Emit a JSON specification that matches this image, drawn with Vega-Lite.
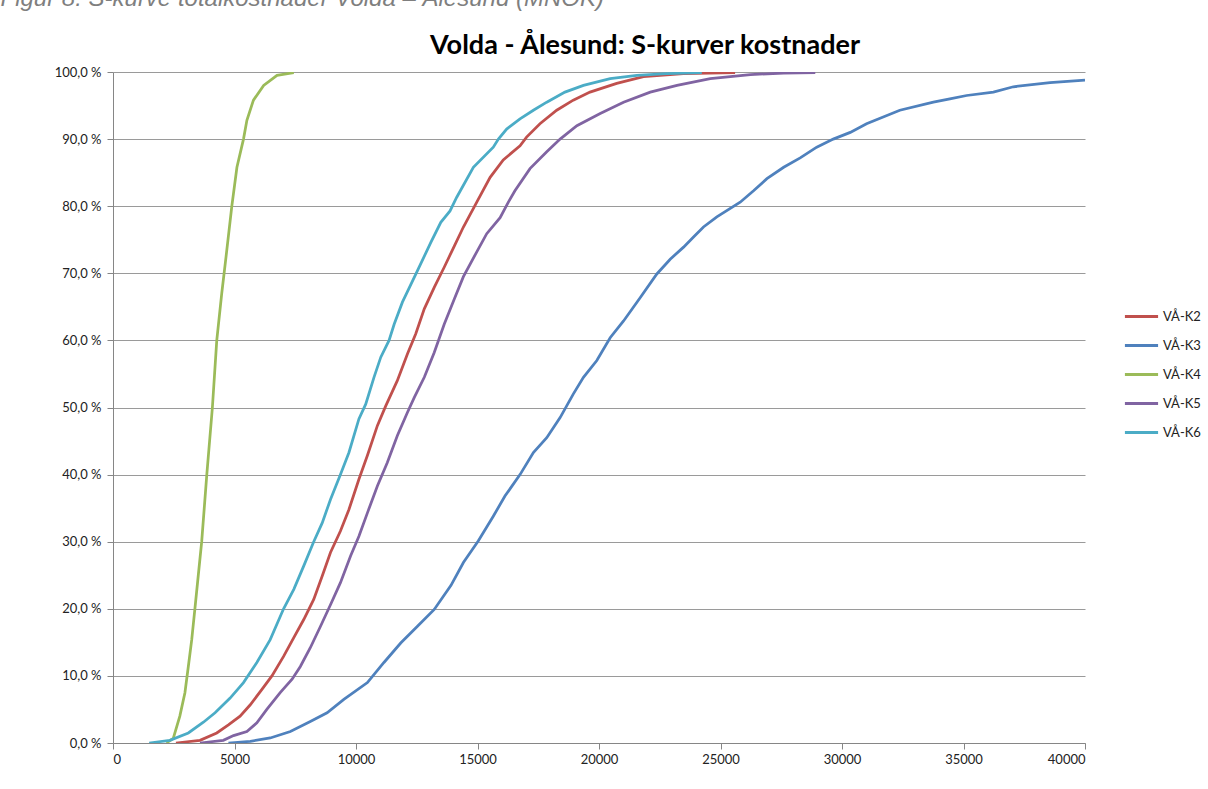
{
  "$schema": "https://vega.github.io/schema/vega-lite/v6.json",
  "autosize": "none",
  "width": 972,
  "height": 671,
  "padding": {"left": 113, "top": 72, "right": 123, "bottom": 46},
  "background": "white",
  "title": {
    "text": "Volda - Ålesund: S-kurver kostnader",
    "font": "Lato",
    "fontSize": 27,
    "fontWeight": "bold",
    "color": "#000000",
    "anchor": "middle",
    "baseline": "bottom",
    "dx": 46,
    "offset": -101
  },
  "data": {
    "values": [
      {"s": "VÅ-K2", "x": 2590, "p": 0},
      {"s": "VÅ-K2", "x": 3580, "p": 0.004},
      {"s": "VÅ-K2", "x": 4270, "p": 0.015},
      {"s": "VÅ-K2", "x": 4750, "p": 0.027},
      {"s": "VÅ-K2", "x": 5230, "p": 0.04},
      {"s": "VÅ-K2", "x": 5650, "p": 0.057},
      {"s": "VÅ-K2", "x": 6130, "p": 0.08},
      {"s": "VÅ-K2", "x": 6540, "p": 0.1},
      {"s": "VÅ-K2", "x": 7020, "p": 0.129},
      {"s": "VÅ-K2", "x": 7440, "p": 0.157},
      {"s": "VÅ-K2", "x": 7850, "p": 0.184},
      {"s": "VÅ-K2", "x": 8260, "p": 0.214},
      {"s": "VÅ-K2", "x": 8610, "p": 0.249},
      {"s": "VÅ-K2", "x": 8950, "p": 0.284},
      {"s": "VÅ-K2", "x": 9360, "p": 0.316},
      {"s": "VÅ-K2", "x": 9710, "p": 0.348},
      {"s": "VÅ-K2", "x": 10120, "p": 0.393},
      {"s": "VÅ-K2", "x": 10465, "p": 0.428},
      {"s": "VÅ-K2", "x": 10880, "p": 0.473},
      {"s": "VÅ-K2", "x": 11220, "p": 0.502},
      {"s": "VÅ-K2", "x": 11700, "p": 0.54},
      {"s": "VÅ-K2", "x": 12120, "p": 0.58},
      {"s": "VÅ-K2", "x": 12460, "p": 0.61},
      {"s": "VÅ-K2", "x": 12810, "p": 0.647},
      {"s": "VÅ-K2", "x": 13220, "p": 0.679},
      {"s": "VÅ-K2", "x": 13630, "p": 0.709},
      {"s": "VÅ-K2", "x": 14050, "p": 0.741},
      {"s": "VÅ-K2", "x": 14420, "p": 0.769},
      {"s": "VÅ-K2", "x": 14970, "p": 0.806},
      {"s": "VÅ-K2", "x": 15520, "p": 0.843},
      {"s": "VÅ-K2", "x": 16060, "p": 0.869},
      {"s": "VÅ-K2", "x": 16750, "p": 0.89},
      {"s": "VÅ-K2", "x": 17020, "p": 0.903},
      {"s": "VÅ-K2", "x": 17570, "p": 0.923},
      {"s": "VÅ-K2", "x": 18260, "p": 0.943},
      {"s": "VÅ-K2", "x": 18940, "p": 0.958},
      {"s": "VÅ-K2", "x": 19630, "p": 0.97},
      {"s": "VÅ-K2", "x": 20730, "p": 0.983},
      {"s": "VÅ-K2", "x": 21830, "p": 0.993},
      {"s": "VÅ-K2", "x": 23470, "p": 0.9975},
      {"s": "VÅ-K2", "x": 25600, "p": 0.999},

      {"s": "VÅ-K3", "x": 4750, "p": 0},
      {"s": "VÅ-K3", "x": 5650, "p": 0.0025},
      {"s": "VÅ-K3", "x": 6470, "p": 0.0075},
      {"s": "VÅ-K3", "x": 7300, "p": 0.017},
      {"s": "VÅ-K3", "x": 8120, "p": 0.032},
      {"s": "VÅ-K3", "x": 8810, "p": 0.045},
      {"s": "VÅ-K3", "x": 9500, "p": 0.065},
      {"s": "VÅ-K3", "x": 10470, "p": 0.09},
      {"s": "VÅ-K3", "x": 11150, "p": 0.12},
      {"s": "VÅ-K3", "x": 11840, "p": 0.149},
      {"s": "VÅ-K3", "x": 12530, "p": 0.174},
      {"s": "VÅ-K3", "x": 13220, "p": 0.199},
      {"s": "VÅ-K3", "x": 13910, "p": 0.235},
      {"s": "VÅ-K3", "x": 14420, "p": 0.269},
      {"s": "VÅ-K3", "x": 15030, "p": 0.301},
      {"s": "VÅ-K3", "x": 15650, "p": 0.338},
      {"s": "VÅ-K3", "x": 16130, "p": 0.368},
      {"s": "VÅ-K3", "x": 16750, "p": 0.4},
      {"s": "VÅ-K3", "x": 17300, "p": 0.433},
      {"s": "VÅ-K3", "x": 17850, "p": 0.455},
      {"s": "VÅ-K3", "x": 18400, "p": 0.485},
      {"s": "VÅ-K3", "x": 18940, "p": 0.52},
      {"s": "VÅ-K3", "x": 19360, "p": 0.545},
      {"s": "VÅ-K3", "x": 19910, "p": 0.57},
      {"s": "VÅ-K3", "x": 20460, "p": 0.604},
      {"s": "VÅ-K3", "x": 21010, "p": 0.629},
      {"s": "VÅ-K3", "x": 21700, "p": 0.664},
      {"s": "VÅ-K3", "x": 22380, "p": 0.699},
      {"s": "VÅ-K3", "x": 22930, "p": 0.721},
      {"s": "VÅ-K3", "x": 23480, "p": 0.739},
      {"s": "VÅ-K3", "x": 23890, "p": 0.754},
      {"s": "VÅ-K3", "x": 24300, "p": 0.769},
      {"s": "VÅ-K3", "x": 24850, "p": 0.784},
      {"s": "VÅ-K3", "x": 25810, "p": 0.806},
      {"s": "VÅ-K3", "x": 26360, "p": 0.823},
      {"s": "VÅ-K3", "x": 26910, "p": 0.841},
      {"s": "VÅ-K3", "x": 27600, "p": 0.858},
      {"s": "VÅ-K3", "x": 28280, "p": 0.872},
      {"s": "VÅ-K3", "x": 28960, "p": 0.888},
      {"s": "VÅ-K3", "x": 29640, "p": 0.9},
      {"s": "VÅ-K3", "x": 30340, "p": 0.91},
      {"s": "VÅ-K3", "x": 31010, "p": 0.923},
      {"s": "VÅ-K3", "x": 32380, "p": 0.943},
      {"s": "VÅ-K3", "x": 33760, "p": 0.955},
      {"s": "VÅ-K3", "x": 34440, "p": 0.96},
      {"s": "VÅ-K3", "x": 35130, "p": 0.965},
      {"s": "VÅ-K3", "x": 36230, "p": 0.97},
      {"s": "VÅ-K3", "x": 37050, "p": 0.978},
      {"s": "VÅ-K3", "x": 38560, "p": 0.984},
      {"s": "VÅ-K3", "x": 40000, "p": 0.988},

      {"s": "VÅ-K4", "x": 2200, "p": 0},
      {"s": "VÅ-K4", "x": 2480, "p": 0.007},
      {"s": "VÅ-K4", "x": 2750, "p": 0.04},
      {"s": "VÅ-K4", "x": 2960, "p": 0.075},
      {"s": "VÅ-K4", "x": 3100, "p": 0.114},
      {"s": "VÅ-K4", "x": 3240, "p": 0.154},
      {"s": "VÅ-K4", "x": 3370, "p": 0.2},
      {"s": "VÅ-K4", "x": 3510, "p": 0.25},
      {"s": "VÅ-K4", "x": 3650, "p": 0.3},
      {"s": "VÅ-K4", "x": 3860, "p": 0.4},
      {"s": "VÅ-K4", "x": 4090, "p": 0.5},
      {"s": "VÅ-K4", "x": 4270, "p": 0.6},
      {"s": "VÅ-K4", "x": 4475, "p": 0.67},
      {"s": "VÅ-K4", "x": 4650, "p": 0.724},
      {"s": "VÅ-K4", "x": 4890, "p": 0.8},
      {"s": "VÅ-K4", "x": 5100, "p": 0.858},
      {"s": "VÅ-K4", "x": 5370, "p": 0.9},
      {"s": "VÅ-K4", "x": 5510, "p": 0.928},
      {"s": "VÅ-K4", "x": 5780, "p": 0.958},
      {"s": "VÅ-K4", "x": 6200, "p": 0.98},
      {"s": "VÅ-K4", "x": 6750, "p": 0.995},
      {"s": "VÅ-K4", "x": 7440, "p": 0.999},

      {"s": "VÅ-K5", "x": 3580, "p": 0},
      {"s": "VÅ-K5", "x": 4540, "p": 0.004},
      {"s": "VÅ-K5", "x": 4960, "p": 0.011},
      {"s": "VÅ-K5", "x": 5510, "p": 0.017},
      {"s": "VÅ-K5", "x": 5920, "p": 0.03},
      {"s": "VÅ-K5", "x": 6330, "p": 0.05},
      {"s": "VÅ-K5", "x": 6880, "p": 0.075},
      {"s": "VÅ-K5", "x": 7370, "p": 0.095},
      {"s": "VÅ-K5", "x": 7710, "p": 0.114},
      {"s": "VÅ-K5", "x": 8120, "p": 0.142},
      {"s": "VÅ-K5", "x": 8540, "p": 0.174},
      {"s": "VÅ-K5", "x": 8950, "p": 0.206},
      {"s": "VÅ-K5", "x": 9360, "p": 0.239},
      {"s": "VÅ-K5", "x": 9780, "p": 0.279},
      {"s": "VÅ-K5", "x": 10120, "p": 0.308},
      {"s": "VÅ-K5", "x": 10470, "p": 0.343},
      {"s": "VÅ-K5", "x": 10880, "p": 0.383},
      {"s": "VÅ-K5", "x": 11290, "p": 0.418},
      {"s": "VÅ-K5", "x": 11700, "p": 0.458},
      {"s": "VÅ-K5", "x": 12120, "p": 0.493},
      {"s": "VÅ-K5", "x": 12400, "p": 0.515},
      {"s": "VÅ-K5", "x": 12810, "p": 0.545},
      {"s": "VÅ-K5", "x": 13220, "p": 0.582},
      {"s": "VÅ-K5", "x": 13630, "p": 0.624},
      {"s": "VÅ-K5", "x": 14050, "p": 0.662},
      {"s": "VÅ-K5", "x": 14420, "p": 0.695},
      {"s": "VÅ-K5", "x": 14970, "p": 0.732},
      {"s": "VÅ-K5", "x": 15380, "p": 0.759},
      {"s": "VÅ-K5", "x": 15930, "p": 0.783},
      {"s": "VÅ-K5", "x": 16270, "p": 0.806},
      {"s": "VÅ-K5", "x": 16540, "p": 0.823},
      {"s": "VÅ-K5", "x": 17160, "p": 0.856},
      {"s": "VÅ-K5", "x": 17850, "p": 0.881},
      {"s": "VÅ-K5", "x": 18400, "p": 0.9},
      {"s": "VÅ-K5", "x": 19090, "p": 0.92},
      {"s": "VÅ-K5", "x": 20050, "p": 0.938},
      {"s": "VÅ-K5", "x": 21010, "p": 0.955},
      {"s": "VÅ-K5", "x": 22110, "p": 0.97},
      {"s": "VÅ-K5", "x": 23210, "p": 0.98},
      {"s": "VÅ-K5", "x": 24580, "p": 0.99},
      {"s": "VÅ-K5", "x": 26230, "p": 0.996},
      {"s": "VÅ-K5", "x": 27600, "p": 0.9985},
      {"s": "VÅ-K5", "x": 28900, "p": 0.999},

      {"s": "VÅ-K6", "x": 1490, "p": 0},
      {"s": "VÅ-K6", "x": 2340, "p": 0.004},
      {"s": "VÅ-K6", "x": 3100, "p": 0.015},
      {"s": "VÅ-K6", "x": 3720, "p": 0.031},
      {"s": "VÅ-K6", "x": 4200, "p": 0.045},
      {"s": "VÅ-K6", "x": 4820, "p": 0.067},
      {"s": "VÅ-K6", "x": 5370, "p": 0.09},
      {"s": "VÅ-K6", "x": 5920, "p": 0.12},
      {"s": "VÅ-K6", "x": 6470, "p": 0.154},
      {"s": "VÅ-K6", "x": 7020, "p": 0.2},
      {"s": "VÅ-K6", "x": 7440, "p": 0.229},
      {"s": "VÅ-K6", "x": 7850, "p": 0.264},
      {"s": "VÅ-K6", "x": 8260, "p": 0.3},
      {"s": "VÅ-K6", "x": 8610, "p": 0.328},
      {"s": "VÅ-K6", "x": 8950, "p": 0.363},
      {"s": "VÅ-K6", "x": 9360, "p": 0.4},
      {"s": "VÅ-K6", "x": 9710, "p": 0.433},
      {"s": "VÅ-K6", "x": 10120, "p": 0.483},
      {"s": "VÅ-K6", "x": 10400, "p": 0.505},
      {"s": "VÅ-K6", "x": 10740, "p": 0.545},
      {"s": "VÅ-K6", "x": 11020, "p": 0.575},
      {"s": "VÅ-K6", "x": 11360, "p": 0.6},
      {"s": "VÅ-K6", "x": 11570, "p": 0.624},
      {"s": "VÅ-K6", "x": 11910, "p": 0.657},
      {"s": "VÅ-K6", "x": 12530, "p": 0.704},
      {"s": "VÅ-K6", "x": 13080, "p": 0.746},
      {"s": "VÅ-K6", "x": 13490, "p": 0.776},
      {"s": "VÅ-K6", "x": 13870, "p": 0.793},
      {"s": "VÅ-K6", "x": 14140, "p": 0.813},
      {"s": "VÅ-K6", "x": 14830, "p": 0.858},
      {"s": "VÅ-K6", "x": 15650, "p": 0.888},
      {"s": "VÅ-K6", "x": 15860, "p": 0.9},
      {"s": "VÅ-K6", "x": 16200, "p": 0.915},
      {"s": "VÅ-K6", "x": 16750, "p": 0.93},
      {"s": "VÅ-K6", "x": 17300, "p": 0.943},
      {"s": "VÅ-K6", "x": 17850, "p": 0.955},
      {"s": "VÅ-K6", "x": 18600, "p": 0.97},
      {"s": "VÅ-K6", "x": 19360, "p": 0.98},
      {"s": "VÅ-K6", "x": 20460, "p": 0.99},
      {"s": "VÅ-K6", "x": 21560, "p": 0.995},
      {"s": "VÅ-K6", "x": 22790, "p": 0.9975},
      {"s": "VÅ-K6", "x": 24230, "p": 0.999}
    ]
  },
  "mark": {"type": "line", "strokeWidth": 2.75, "clip": true, "interpolate": "linear"},
  "encoding": {
    "x": {
      "field": "x",
      "type": "quantitative",
      "scale": {"domain": [0, 40000], "nice": false, "zero": true},
      "axis": {
        "values": [0, 5000, 10000, 15000, 20000, 25000, 30000, 35000, 40000],
        "format": "d",
        "title": null,
        "grid": false,
        "domainColor": "#868686",
        "tickColor": "#868686",
        "tickSize": 6,
        "labelFont": "Lato",
        "labelFontSize": 13,
        "labelColor": "#222222",
        "labelPadding": 4
      }
    },
    "y": {
      "field": "p",
      "type": "quantitative",
      "scale": {"domain": [0, 1], "nice": false},
      "axis": {
        "values": [0, 0.1, 0.2, 0.3, 0.4, 0.5, 0.6, 0.7, 0.8, 0.9, 1],
        "labelExpr": "replace(format(datum.value * 100, '.1f'), '.', ',') + ' %'",
        "title": "Figur 8: S-kurve totalkostnader Volda – Ålesund (MNOK)",
        "titleAngle": 0,
        "titleAlign": "left",
        "titleBaseline": "alphabetic",
        "titleX": -113,
        "titleY": -67,
        "titleFont": "Liberation Sans",
        "titleFontStyle": "italic",
        "titleFontWeight": "normal",
        "titleFontSize": 24,
        "titleColor": "#7f7f7f",
        "grid": true,
        "gridColor": "#9a9a9a",
        "gridWidth": 1,
        "domainColor": "#868686",
        "tickColor": "#868686",
        "tickSize": 6,
        "labelFont": "Lato",
        "labelFontSize": 13,
        "labelColor": "#222222",
        "labelPadding": 6
      }
    },
    "color": {
      "field": "s",
      "type": "nominal",
      "scale": {
        "domain": ["VÅ-K2", "VÅ-K3", "VÅ-K4", "VÅ-K5", "VÅ-K6"],
        "range": ["#C0504D", "#4F81BD", "#9BBB59", "#8064A2", "#4BACC6"]
      },
      "legend": {
        "title": null,
        "orient": "none",
        "legendX": 1010,
        "legendY": 226,
        "symbolType": "stroke",
        "symbolStrokeWidth": 3,
        "symbolSize": 1100,
        "labelFont": "Lato",
        "labelFontSize": 13,
        "labelColor": "#222222",
        "labelOffset": 3,
        "rowPadding": 3
      }
    }
  },
  "config": {
    "view": {"stroke": null}
  }
}
